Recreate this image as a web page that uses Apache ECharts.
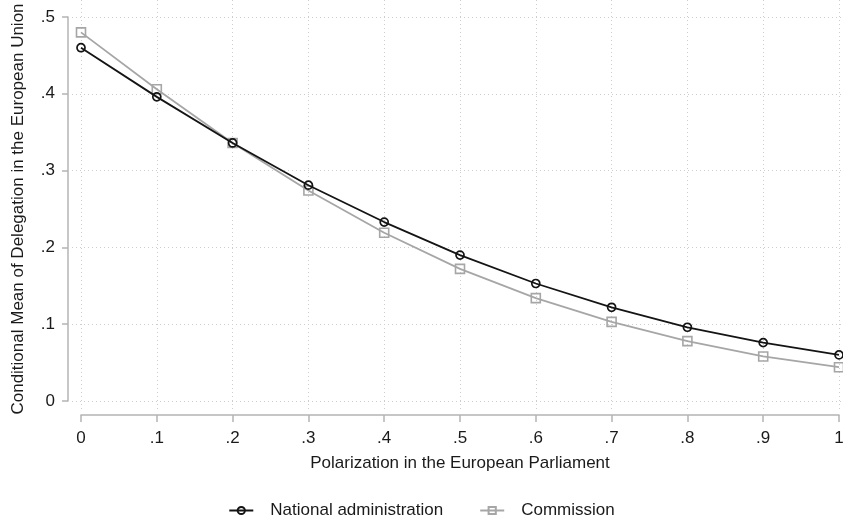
<!DOCTYPE html>
<html>
<head>
<meta charset="utf-8">
<script src="https://cdn.jsdelivr.net/npm/echarts@6/dist/echarts.min.js"></script>
<style>html,body{margin:0;padding:0;background:#fff}#c{width:843px;height:520px}</style>
</head>
<body>
<div id="c"></div>
<script>
const xValues = [0, 0.1, 0.2, 0.3, 0.4, 0.5, 0.6, 0.7, 0.8, 0.9, 1];
const nationalAdmin = [0.460, 0.396, 0.336, 0.281, 0.233, 0.190, 0.153, 0.122, 0.096, 0.076, 0.060];
const commission = [0.480, 0.406, 0.336, 0.274, 0.219, 0.172, 0.134, 0.103, 0.078, 0.058, 0.044];
const xTickLabels = ['0', '.1', '.2', '.3', '.4', '.5', '.6', '.7', '.8', '.9', '1'];
const yTickLabels = ['0', '.1', '.2', '.3', '.4', '.5'];
const seriesNames = ['National administration', 'Commission'];

const font = 'Liberation Sans, Arial, sans-serif';
const txt = '#1a1a1a';
const axisCol = '#b4b4b4';
const gridCol = '#cdcdcd';
const blackCol = '#141414';
const grayCol = '#a6a6a6';
const hidden = {axisLine: {show: false}, axisTick: {show: false}, axisLabel: {show: false}, splitLine: {show: false}};
const dotted = {show: true, lineStyle: {color: gridCol, type: [1, 3], width: 1}};
const xBase = {type: 'value', min: 0, max: 1, interval: 0.1};
const yBase = {type: 'value', min: 0, max: 0.5, interval: 0.1};

const chart = echarts.init(document.getElementById('c'), null, {renderer: 'canvas'});
chart.setOption({
  animation: false,
  backgroundColor: '#fff',
  textStyle: {fontFamily: font},
  grid: [
    // 0: data grid
    {left: 81, right: 4, top: 17, bottom: 119, outerBoundsMode: 'none'},
    // 1: y axis line (offset to the left)
    {left: 68, right: 4, top: 17, bottom: 119, outerBoundsMode: 'none'},
    // 2: x axis line (offset below)
    {left: 81, right: 4, top: 17, bottom: 105, outerBoundsMode: 'none'},
    // 3: vertical gridlines (extended)
    {left: 81, right: 4, top: 0, bottom: 110, outerBoundsMode: 'none'},
    // 4: horizontal gridlines (extended)
    {left: 72, right: 0, top: 17, bottom: 119, outerBoundsMode: 'none'}
  ],
  xAxis: [
    Object.assign({gridIndex: 0}, xBase, hidden),
    Object.assign({gridIndex: 1}, xBase, hidden),
    Object.assign({gridIndex: 2}, xBase, {
      name: 'Polarization in the European Parliament',
      nameLocation: 'middle', nameGap: 40,
      nameTextStyle: {fontSize: 17, color: txt, fontFamily: font},
      axisLine: {show: true, lineStyle: {color: axisCol, width: 1.5}},
      axisTick: {show: true, length: 7, lineStyle: {color: axisCol, width: 1.5}},
      axisLabel: {fontSize: 17, color: txt, margin: 15, fontFamily: font,
        formatter: v => xTickLabels[Math.round(v * 10)]},
      splitLine: {show: false}
    }),
    Object.assign({gridIndex: 3}, xBase, hidden, {splitLine: dotted}),
    Object.assign({gridIndex: 4}, xBase, hidden)
  ],
  yAxis: [
    Object.assign({gridIndex: 0}, yBase, hidden),
    Object.assign({gridIndex: 1}, yBase, {
      name: 'Conditional Mean of Delegation in the European Union',
      nameLocation: 'middle', nameGap: 41,
      nameTextStyle: {fontSize: 17, color: txt, fontFamily: font},
      axisLine: {show: true, lineStyle: {color: axisCol, width: 1.5}},
      axisTick: {show: true, length: 6, lineStyle: {color: axisCol, width: 1.5}},
      axisLabel: {fontSize: 17, color: txt, margin: 13, fontFamily: font,
        formatter: v => yTickLabels[Math.round(v * 10)]},
      splitLine: {show: false}
    }),
    Object.assign({gridIndex: 2}, yBase, hidden),
    Object.assign({gridIndex: 3}, yBase, hidden),
    Object.assign({gridIndex: 4}, yBase, hidden, {splitLine: dotted})
  ],
  legend: {
    top: 497, left: 'center', itemGap: 36, itemWidth: 24, itemHeight: 9,
    textStyle: {fontSize: 17, color: txt, fontFamily: font, padding: [0, 0, 0, 12]},
    data: seriesNames
  },
  series: [
    {
      name: seriesNames[1], type: 'line', xAxisIndex: 0, yAxisIndex: 0,
      data: xValues.map((x, i) => [x, commission[i]]),
      symbol: 'rect', symbolSize: 9,
      lineStyle: {color: grayCol, width: 1.8},
      itemStyle: {color: 'rgba(255,255,255,0)', borderColor: grayCol, borderWidth: 1.6},
      z: 2
    },
    {
      name: seriesNames[0], type: 'line', xAxisIndex: 0, yAxisIndex: 0,
      data: xValues.map((x, i) => [x, nationalAdmin[i]]),
      symbol: 'circle', symbolSize: 8,
      lineStyle: {color: blackCol, width: 1.8},
      itemStyle: {color: 'rgba(255,255,255,0)', borderColor: blackCol, borderWidth: 1.7},
      z: 3
    }
  ]
});
</script>
</body>
</html>
